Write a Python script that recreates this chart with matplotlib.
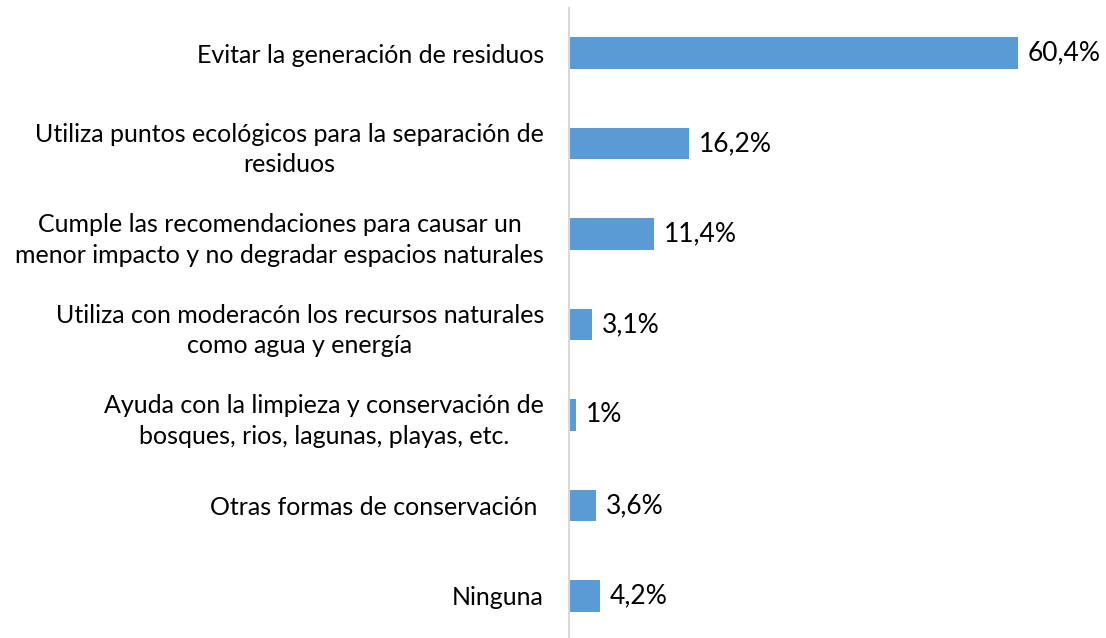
import numpy as np
import matplotlib
matplotlib.use("Agg")
import matplotlib.pyplot as plt

plt.rcParams['font.family'] = ['Lato', 'DejaVu Sans']

categories = ["Evitar la generación de residuos",
              "Utiliza puntos ecológicos para la separación de\nresiduos",
              "Cumple las recomendaciones para causar un\nmenor impacto y no degradar espacios naturales",
              "Utiliza con moderacón los recursos naturales\ncomo agua y energía",
              "Ayuda con la limpieza y conservación de\nbosques, rios, lagunas, playas, etc.",
              "Otras formas de conservación ",
              "Ninguna"]
values = [60.4, 16.2, 11.4, 3.1, 1.0, 3.6, 4.2]
value_labels = ["60,4%", "16,2%", "11,4%", "3,1%", "1%", "3,6%", "4,2%"]

bar_color = "#5B9BD5"

fig = plt.figure(figsize=(11.06, 6.38), dpi=100)
ax = fig.add_axes([569/1106, -3/638, 511/1106, 633/638])

ypos = np.arange(len(categories))
bars = ax.barh(ypos, values, height=0.35, color=bar_color)

ax.set_ylim(len(categories) - 0.5, -0.5)
ax.set_xlim(0, 68.8)
ax.set_yticks(ypos)
ax.set_yticklabels(categories, fontsize=18, multialignment="center", linespacing=1.4)
ax.tick_params(axis="y", length=0, pad=18)
ax.set_xticks([])

for sp in ["top", "right", "bottom"]:
    ax.spines[sp].set_visible(False)
ax.spines["left"].set_color("#D9D9D9")
ax.spines["left"].set_linewidth(1.5)

for b, lab in zip(bars, value_labels):
    ax.annotate(lab, (b.get_width(), b.get_y() + b.get_height() / 2),
                xytext=(7, 0), textcoords="offset points",
                va="center", ha="left", fontsize=19)

fig.savefig("out.png", dpi=100)
